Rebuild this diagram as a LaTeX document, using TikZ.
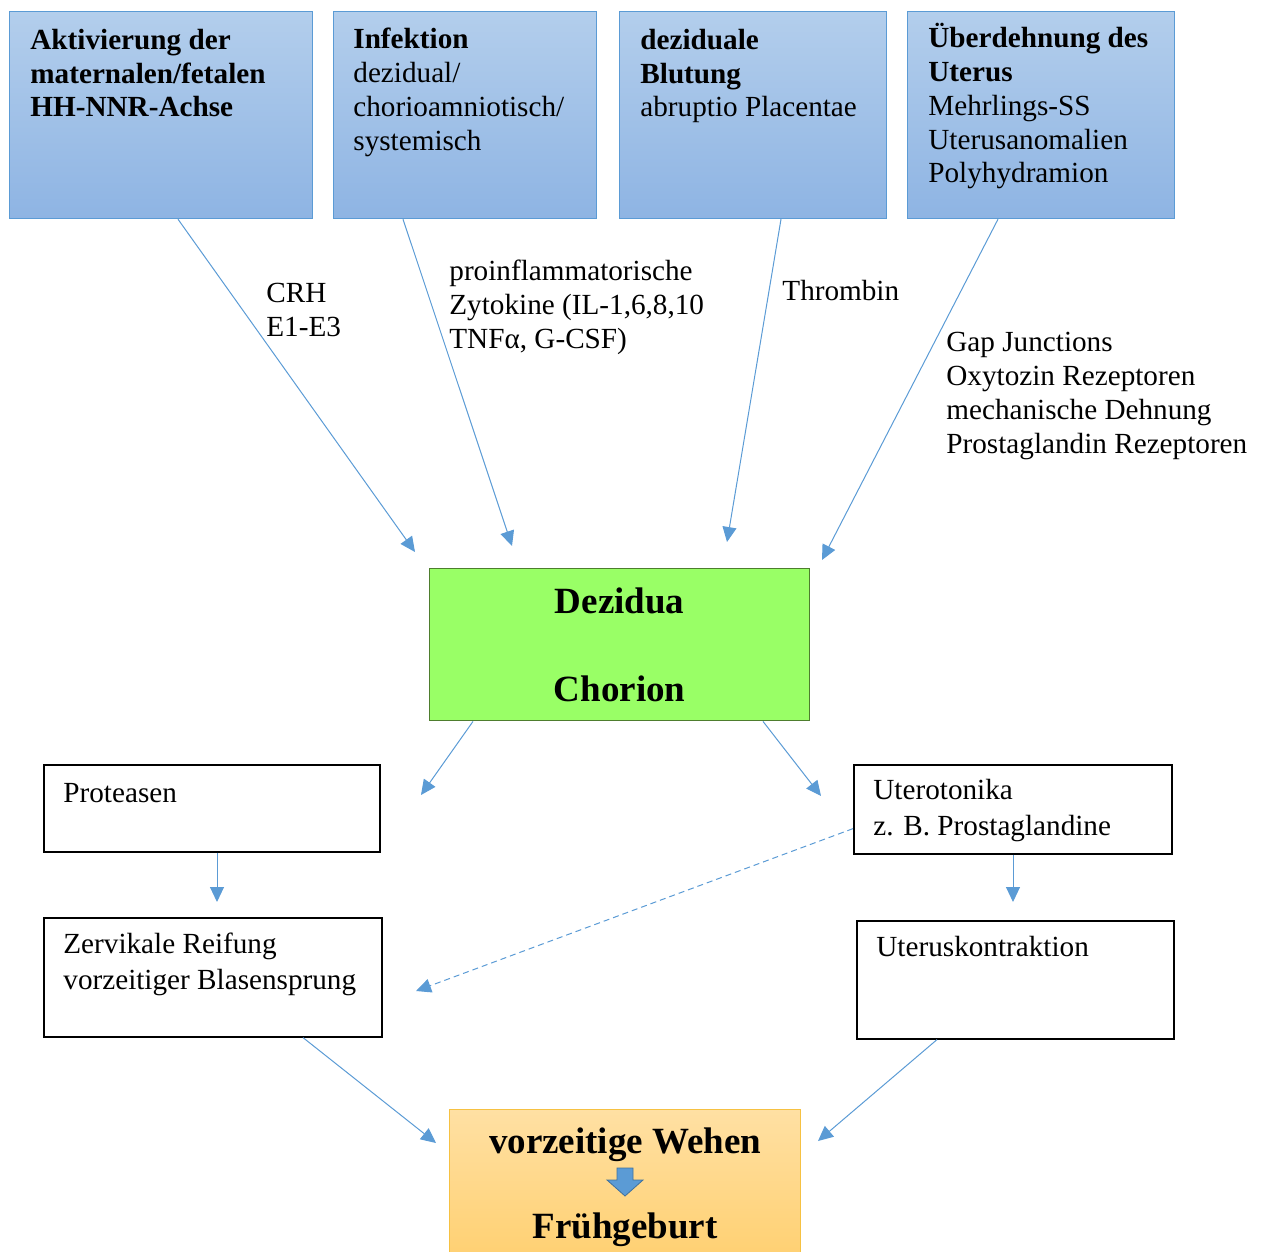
\documentclass[tikz,border=0pt]{standalone}
\usepackage{fontspec}
\setmainfont{Liberation Serif}
\usetikzlibrary{arrows.meta}
\definecolor{kastenblau}{HTML}{5B9BD5}
\definecolor{blauoben}{HTML}{B3CEEC}
\definecolor{blauunten}{HTML}{8EB4E3}
\definecolor{gruen}{HTML}{99FF66}
\definecolor{gruenrand}{HTML}{4E7D2E}
\definecolor{orangeoben}{HTML}{FFE0A3}
\definecolor{orangeunten}{HTML}{FFCF6E}
\definecolor{orangerand}{HTML}{F6C142}
\definecolor{pfeildunkel}{HTML}{41719C}
\tikzset{
  ursache/.style={draw=kastenblau, line width=0.6pt, top color=blauoben, bottom color=blauunten,
    anchor=north west, minimum height=103.5pt},
  kasten/.style={draw, line width=0.8pt, anchor=north west},
  % anchor = Grundlinie der letzten Zeile
  txt/.style={anchor=base west, align=left, inner sep=0pt, font=\fontsize{14.6}{16.9}\selectfont},
  gross/.style={anchor=base, inner sep=0pt, font=\fontsize{18.5}{21}\selectfont\bfseries},
  pfeil/.style={draw=kastenblau, line width=0.5pt, -{Triangle[length=7.5pt,width=7pt]}}
}
\begin{document}
\begin{tikzpicture}[x=0.5pt, y=-0.5pt]
  \useasboundingbox (0,0) rectangle (1263,1252);
  % Ursachen
  \node[ursache, minimum width=151.5pt] (aktiv) at (9,11) {};
  \node[ursache, minimum width=131.5pt] (infekt) at (333,11) {};
  \node[ursache, minimum width=133.5pt] (blutung) at (619,11) {};
  \node[ursache, minimum width=133.5pt] (uterus) at (907,11) {};
  \node[txt] (aktivtxt) at ([shift={(21,106)}]aktiv.north west)
    {\textbf{Aktivierung der}\\\textbf{maternalen/fetalen}\\\textbf{HH-NNR-Achse}};
  \node[txt] (infekttxt) at ([shift={(20,139)}]infekt.north west)
    {\textbf{Infektion}\\dezidual/\\chorioamniotisch/\\systemisch};
  \node[txt] (blutungtxt) at ([shift={(21,106)}]blutung.north west)
    {\textbf{deziduale}\\\textbf{Blutung}\\abruptio Placentae};
  \node[txt] (uterustxt) at ([shift={(21,172)}]uterus.north west)
    {\textbf{Überdehnung des}\\\textbf{Uterus}\\Mehrlings-SS\\Uterusanomalien\\Polyhydramion};

  % Dezidua / Chorion
  \node[draw=gruenrand, fill=gruen, line width=0.7pt, anchor=north west,
    minimum width=190pt, minimum height=76pt] (dez) at (429,568) {};
  \node[gross] (dezidua) at ([shift={(0,45)}]dez.north) {Dezidua};
  \node[gross] (chorion) at ([shift={(0,-20)}]dez.south) {Chorion};

  % Folgen
  \node[kasten, minimum width=168pt, minimum height=43.5pt] (prot) at (43,764) {};
  \node[kasten, minimum width=169pt, minimum height=59.5pt] (zervix) at (43,917) {};
  \node[kasten, minimum width=159pt, minimum height=44.5pt] (utero) at (853,764) {};
  \node[kasten, minimum width=158.5pt, minimum height=59pt] (kontr) at (856,920) {};
  \node[txt] (prottxt) at ([shift={(20,38)}]prot.north west) {Proteasen};
  \node[txt, font=\fontsize{14.6}{18}\selectfont] (zervixtxt) at ([shift={(20,72)}]zervix.north west)
    {Zervikale Reifung\\vorzeitiger Blasensprung};
  \node[txt, font=\fontsize{14.6}{18}\selectfont] (uterotxt) at ([shift={(20,71)}]utero.north west)
    {Uterotonika\\z. B. Prostaglandine};
  \node[txt] (kontrtxt) at ([shift={(20,36)}]kontr.north west) {Uteruskontraktion};

  % Fruehgeburt
  \node[draw=orangerand, line width=0.7pt, top color=orangeoben, bottom color=orangeunten,
    anchor=north west, minimum width=175.5pt, minimum height=80pt] (fg) at (449,1109) {};
  \node[gross] (wehen) at ([shift={(0,44)}]fg.north) {vorzeitige Wehen};
  \node[gross] (geburt) at ([shift={(0,129)}]fg.north) {Frühgeburt};
  \draw[fill=kastenblau, draw=pfeildunkel, line width=0.4pt] (617,1168) -- (633,1168) -- (633,1180)
    -- (643,1180) -- (625,1196) -- (607,1180) -- (617,1180) -- cycle;

  % Pfeilspitzen
  \coordinate (e1) at (415,552);
  \coordinate (e2) at (512,546);
  \coordinate (e3) at (727,542);
  \coordinate (e4) at (822,560);
  \coordinate (e5) at (421,795);
  \coordinate (e6) at (821,796);
  \coordinate (e7) at (217,902);
  \coordinate (e8) at (1013,902);
  \coordinate (e9) at (416,991);
  \coordinate (e10) at (436,1143);
  \coordinate (e11) at (818,1141);

  \draw[pfeil] ([shift={(169,0)}]aktiv.south west) -- (e1);
  \draw[pfeil] ([shift={(70,0)}]infekt.south west) -- (e2);
  \draw[pfeil] ([shift={(162,0)}]blutung.south west) -- (e3);
  \draw[pfeil] ([shift={(91,0)}]uterus.south west) -- (e4);
  \draw[pfeil] ([shift={(44,0)}]dez.south west) -- (e5);
  \draw[pfeil] ([shift={(334,0)}]dez.south west) -- (e6);
  \draw[pfeil] ([shift={(174,0)}]prot.south west) -- (e7);
  \draw[pfeil] ([shift={(160,0)}]utero.south west) -- (e8);
  \draw[pfeil, dashed, dash pattern=on 3pt off 2pt] ([shift={(0,-26)}]utero.south west) -- (e9);
  \draw[pfeil] ([shift={(260,0)}]zervix.south west) -- (e10);
  \draw[pfeil] ([shift={(81,0)}]kontr.south west) -- (e11);

  % Mediatoren
  \node[txt] (crh) at (266,336) {CRH\\E1-E3};
  \node[txt] (zytokine) at (449,348) {proinflammatorische\\Zytokine (IL-1,6,8,10\\TNFα, G-CSF)};
  \node[txt] (thrombin) at (782,300) {Thrombin};
  \node[txt] (gap) at (946,453) {Gap Junctions\\Oxytozin Rezeptoren\\mechanische Dehnung\\Prostaglandin Rezeptoren};
\end{tikzpicture}
\end{document}
